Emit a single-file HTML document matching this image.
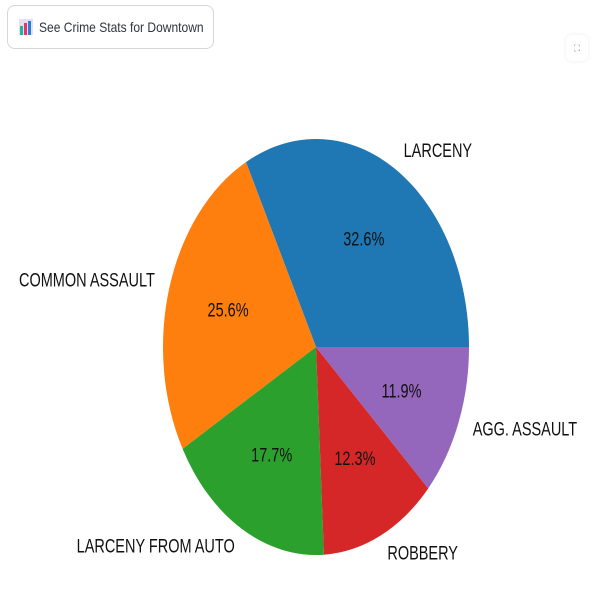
<!DOCTYPE html>
<html><head><meta charset="utf-8"><style>
body{margin:0;width:600px;height:613px;background:#fff;overflow:hidden;font-family:"Liberation Sans",sans-serif;position:relative}
.btn{position:absolute;left:7px;top:5px;width:207px;height:44px;border:1px solid #d6d6d9;border-radius:8px;box-sizing:border-box;display:flex;align-items:center;padding-left:11px;font-size:14px;color:#31333f;white-space:nowrap}
.btn span{display:inline-block;transform:scaleX(0.86);transform-origin:left center}
.fs{position:absolute;left:566px;top:35px;width:22px;height:26px;border-radius:6px;box-shadow:0 0 4px rgba(0,0,0,0.08);font-size:9px;color:#888;display:flex;align-items:center;justify-content:center}
</style></head><body>
<div class="btn"><svg width="14" height="16" style="margin-right:6px;flex:none"><rect x="0" y="0" width="14" height="16" fill="#e6e0ee"/><rect x="1" y="7" width="3" height="9" fill="#1fb5a3"/><rect x="5" y="4" width="3" height="12" fill="#e8336b"/><rect x="9" y="2" width="3" height="14" fill="#2b7fd6"/></svg><span>See Crime Stats for Downtown</span></div>
<div class="fs">⛶</div>
<svg id="chart" width="600" height="613" style="position:absolute;left:0;top:0"></svg>
<script>
const categories=["LARCENY","COMMON ASSAULT","LARCENY FROM AUTO","ROBBERY","AGG. ASSAULT"];
const values=[32.6,25.6,17.7,12.3,11.9];
const colors=["#1f77b4","#ff7f0e","#2ca02c","#d62728","#9467bd"];
const svg=document.getElementById('chart');const NS="http://www.w3.org/2000/svg";
const cx=316,cy=347,r=153,sy=208/153;
const g=document.createElementNS(NS,'g');g.setAttribute('transform',`translate(${cx},${cy}) scale(1,${sy})`);svg.appendChild(g);
const total=values.reduce((a,b)=>a+b,0);let a0=0;
values.forEach((v,i)=>{
 const a1=a0+v/total*2*Math.PI;
 const p=document.createElementNS(NS,'path');
 const x0=r*Math.cos(a0),y0=-r*Math.sin(a0),x1=r*Math.cos(a1),y1=-r*Math.sin(a1);
 p.setAttribute('d',`M0,0L${x0},${y0}A${r},${r} 0 ${a1-a0>Math.PI?1:0} 0 ${x1},${y1}Z`);
 p.setAttribute('fill',colors[i]);
 
 
 g.appendChild(p);
 const am=(a0+a1)/2,c=Math.cos(am),s=Math.sin(am);
 const t=document.createElementNS(NS,'text');
 t.setAttribute('x',1.1*r*c);t.setAttribute('y',-1.1*r*s);
 t.setAttribute('text-anchor',c>0?'start':'end');t.setAttribute('dominant-baseline','middle');
 t.setAttribute('font-size','14.5');t.setAttribute('fill','#111');t.textContent=categories[i];
 
 
 g.appendChild(t);
 const q=document.createElementNS(NS,'text');
 q.setAttribute('x',0.6*r*c);q.setAttribute('y',-0.6*r*s);
 q.setAttribute('text-anchor','middle');q.setAttribute('dominant-baseline','middle');
 q.setAttribute('font-size','14.5');q.setAttribute('fill','#111');q.textContent=v.toFixed(1)+'%';
 
 
 g.appendChild(q);
 a0=a1;
});
</script>
</body></html>
